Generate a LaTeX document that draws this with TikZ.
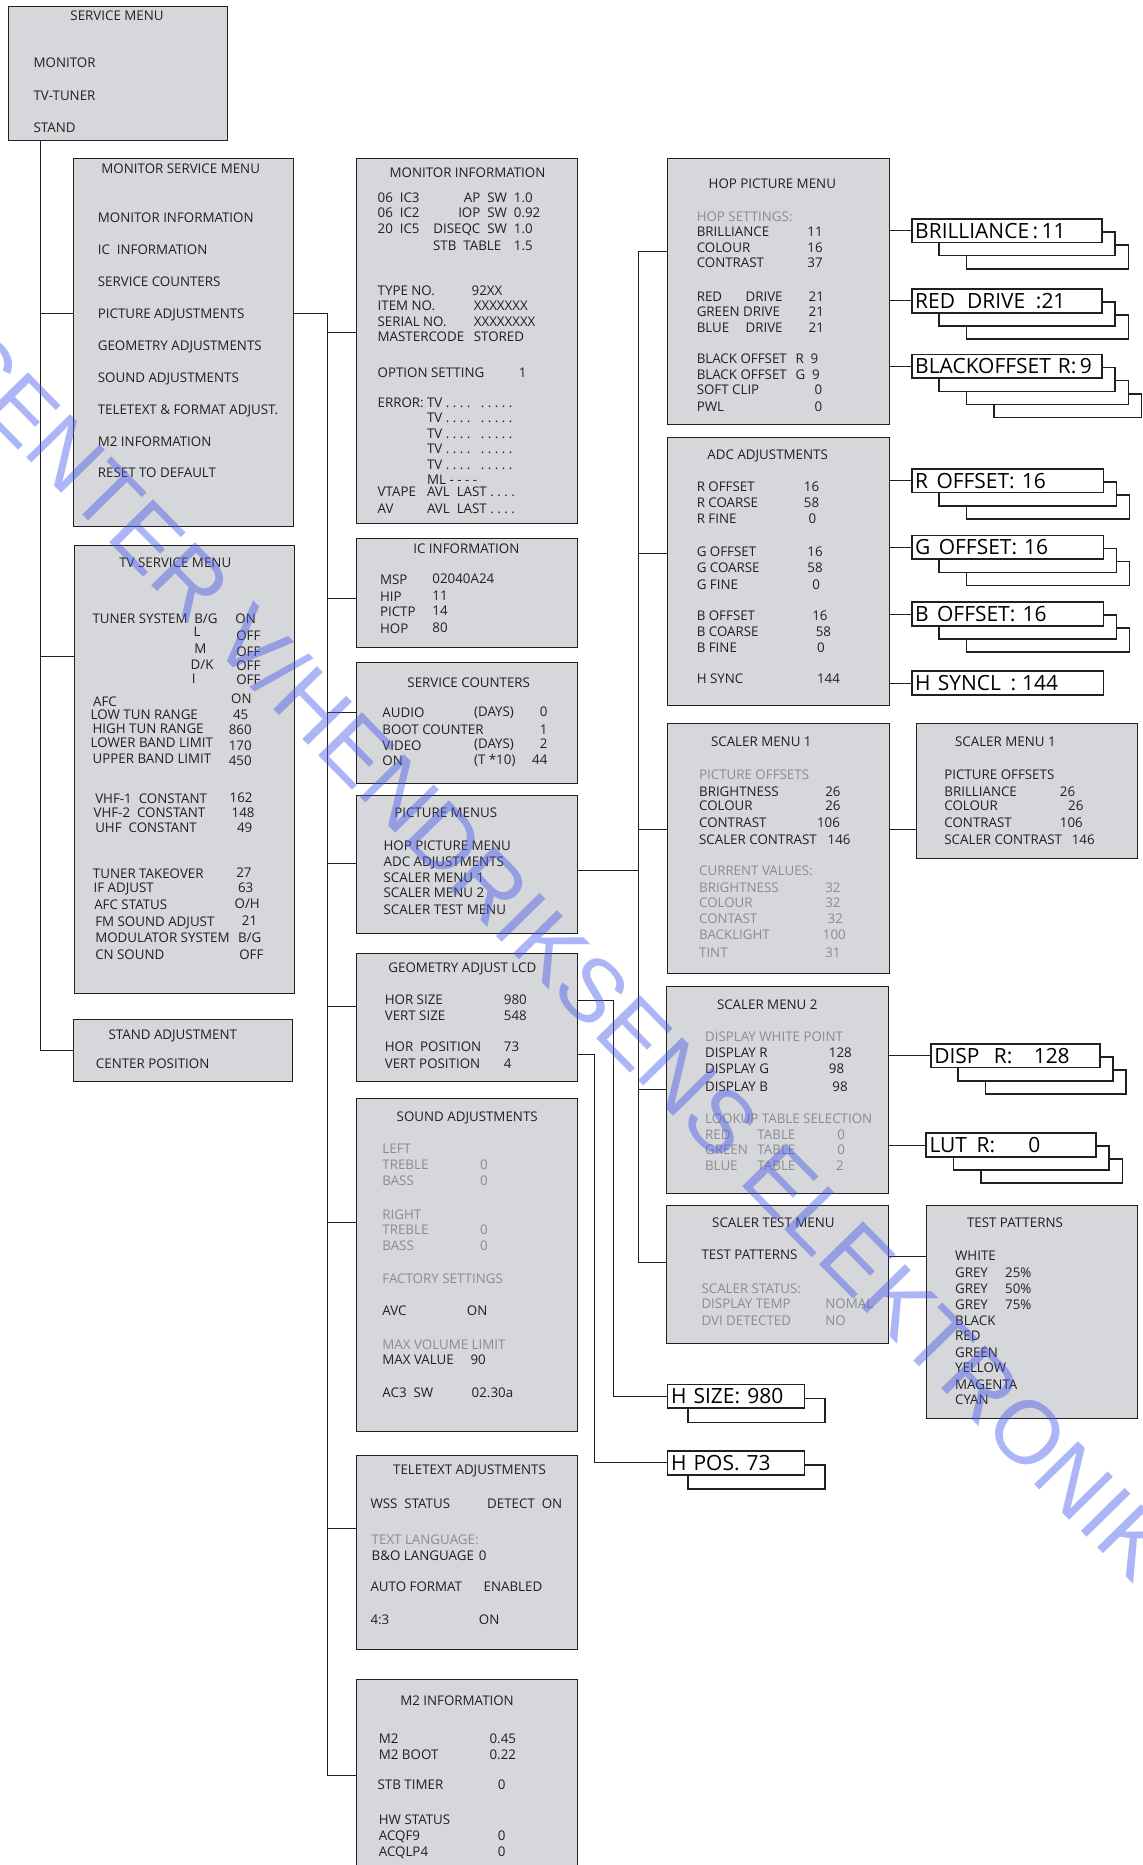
\documentclass[tikz,border=0pt]{standalone}
\usepackage{fontspec}
\setmainfont{Open Sans}
\newfontfamily\markfamily{Liberation Sans}
\usetikzlibrary{positioning}

\definecolor{boxgray}{RGB}{214,215,218}
\definecolor{ink}{RGB}{35,31,32}
\definecolor{dimtext}{RGB}{140,140,143}
\definecolor{markblue}{RGB}{70,90,235}

\newcommand{\menufont}{\fontsize{11.2pt}{13pt}\selectfont}
\newcommand{\valfont}{\fontsize{17.6pt}{20pt}\selectfont}

\tikzset{
    menubox/.style={
        rectangle, anchor=north west, inner sep=0pt,
        draw=ink, line width=0.8pt, fill=boxgray,
    },
    valbox/.style={
        rectangle, anchor=north west, inner xsep=3pt, inner ysep=0pt,
        minimum height=20pt, text height=12.6pt, text depth=0pt,
        draw=ink, line width=1.4pt, fill=white, font=\valfont, align=left,
    },
    txt/.style={
        anchor=west, inner sep=0pt,
        text height=8pt, text depth=0pt,
        font=\menufont, text=ink,
    },
    dim/.style={txt, text=dimtext},
    rtxt/.style={txt, anchor=east},
    wire/.style={draw=ink, line width=0.8pt},
}

\begin{document}
\begin{tikzpicture}[x=1pt, y=-1pt]
    \useasboundingbox (0,0) rectangle (960,1566.4);
    \clip (0,0) rectangle (960,1566.4);

    % menu boxes
    \node (smenu) at(7,5) [menubox, minimum width=184pt, minimum height=113pt] {};
    \node (msm) at(61,133) [menubox, minimum width=185pt, minimum height=309pt] {};
    \node (tvm) at(62,458) [menubox, minimum width=185pt, minimum height=376pt] {};
    \node (stand) at(61,856) [menubox, minimum width=184pt, minimum height=52pt] {};
    \node (minfo) at(299,133) [menubox, minimum width=186pt, minimum height=306pt] {};
    \node (icinfo) at(299,452) [menubox, minimum width=186pt, minimum height=91pt] {};
    \node (counters) at(299,556) [menubox, minimum width=186pt, minimum height=102pt] {};
    \node (picmenus) at(299,668) [menubox, minimum width=186pt, minimum height=116pt] {};
    \node (geom) at(299,800) [menubox, minimum width=186pt, minimum height=108pt] {};
    \node (sound) at(299,922) [menubox, minimum width=186pt, minimum height=280pt] {};
    \node (ttx) at(299,1222) [menubox, minimum width=186pt, minimum height=163pt] {};
    \node (mtwo) at(299,1410) [menubox, minimum width=186pt, minimum height=175pt] {};
    \node (hop) at(560,133) [menubox, minimum width=187pt, minimum height=223pt] {};
    \node (adc) at(560,367) [menubox, minimum width=187pt, minimum height=225pt] {};
    \node (sclone) at(560,607) [menubox, minimum width=187pt, minimum height=210pt] {};
    \node (sclonex) at(769,607) [menubox, minimum width=186pt, minimum height=114pt] {};
    \node (scltwo) at(559,828) [menubox, minimum width=187pt, minimum height=174pt] {};
    \node (scltest) at(559,1012) [menubox, minimum width=187pt, minimum height=116pt] {};
    \node (patterns) at(778,1012) [menubox, minimum width=177pt, minimum height=179pt] {};

    % service menu
    \node (sm-t) at(59,13) [txt] {SERVICE MENU};
    \node (sm-1) at(28,53) [txt] {MONITOR};
    \node (sm-2) at(28,80) [txt] {TV-TUNER};
    \node (sm-3) at(28,107) [txt] {STAND};

    % monitor service menu
    \node (ms-t) at(85,142) [txt] {MONITOR SERVICE MENU};
    \node (ms-1) at(82,182.6) [txt] {MONITOR INFORMATION};
    \node (ms-2) at(82,209.5) [txt] {IC\ \ INFORMATION};
    \node (ms-3) at(82,236.4) [txt] {SERVICE COUNTERS};
    \node (ms-4) at(82,263.3) [txt] {PICTURE ADJUSTMENTS};
    \node (ms-5) at(82,290.2) [txt] {GEOMETRY ADJUSTMENTS};
    \node (ms-6) at(82,317.2) [txt] {SOUND ADJUSTMENTS};
    \node (ms-7) at(82,344) [txt] {TELETEXT \& FORMAT ADJUST.};
    \node (ms-8) at(82,371) [txt] {M2 INFORMATION};
    \node (ms-9) at(82,397) [txt] {RESET TO DEFAULT};

    % tv service menu
    \node (tv-t) at(100,473) [txt] {TV SERVICE MENU};
    \node (tv-1) at(77.5,520) [txt] {TUNER SYSTEM};
    \node (tv-1a) at(163,520) [txt] {B/G};
    \node (tv-1b) at(197.5,520) [txt] {ON};
    \node (tv-2a) at(162.5,531) [txt] {L};
    \node (tv-2b) at(198.3,534) [txt] {OFF};
    \node (tv-3a) at(163,545) [txt] {M};
    \node (tv-3b) at(198.3,547) [txt] {OFF};
    \node (tv-4a) at(160,558) [txt] {D/K};
    \node (tv-4b) at(198.3,559) [txt] {OFF};
    \node (tv-5a) at(161,570) [txt] {I};
    \node (tv-5b) at(198.3,571) [txt] {OFF};
    \node (tv-6) at(78,589) [txt] {AFC};
    \node (tv-6v) at(194,587) [txt] {ON};
    \node (tv-7) at(76,600) [txt] {LOW TUN RANGE};
    \node (tv-7v) at(195.5,600) [txt] {45};
    \node (tv-8) at(77.6,612) [txt] {HIGH TUN RANGE};
    \node (tv-8v) at(192,613) [txt] {860};
    \node (tv-9) at(76,624) [txt] {LOWER BAND LIMIT};
    \node (tv-9v) at(192,626) [txt] {170};
    \node (tv-10) at(77.6,637) [txt] {UPPER BAND LIMIT};
    \node (tv-10v) at(192,639) [txt] {450};
    \node (tv-11) at(79.8,671) [txt] {VHF-1\ \ CONSTANT};
    \node (tv-11v) at(192.7,670) [txt] {162};
    \node (tv-12) at(78.4,683) [txt] {VHF-2\ \ CONSTANT};
    \node (tv-12v) at(194.4,683) [txt] {148};
    \node (tv-13) at(79.8,695) [txt] {UHF\ \ CONSTANT};
    \node (tv-13v) at(198.9,695) [txt] {49};
    \node (tv-14) at(77.9,734) [txt] {TUNER TAKEOVER};
    \node (tv-14v) at(198.3,733) [txt] {27};
    \node (tv-15) at(78.4,746) [txt] {IF ADJUST};
    \node (tv-15v) at(199.7,746) [txt] {63};
    \node (tv-16) at(79,760) [txt] {AFC STATUS};
    \node (tv-16v) at(196.9,759) [txt] {O/H};
    \node (tv-17) at(79.8,774) [txt] {FM SOUND ADJUST};
    \node (tv-17v) at(203,773) [txt] {21};
    \node (tv-18) at(79.8,788) [txt] {MODULATOR SYSTEM};
    \node (tv-18v) at(199.7,788) [txt] {B/G};
    \node (tv-19) at(79.8,802) [txt] {CN SOUND};
    \node (tv-19v) at(200.8,802) [txt] {OFF};

    % stand adjustment
    \node (st-t) at(91,869.4) [txt] {STAND ADJUSTMENT};
    \node (st-1) at(80.4,893) [txt] {CENTER POSITION};

    % monitor information
    \node (mi-t) at(327,145) [txt] {MONITOR INFORMATION};
    \node (mi-1) at(317,166) [txt] {06\ \ IC3};
    \node (mi-1a) at(426,166) [rtxt] {AP\ \ SW};
    \node (mi-1b) at(431.4,166) [txt] {1.0};
    \node (mi-2) at(317,179) [txt] {06\ \ IC2};
    \node (mi-2a) at(426,179) [rtxt] {IOP\ \ SW};
    \node (mi-2b) at(431.4,179) [txt] {0.92};
    \node (mi-3) at(317,192) [txt] {20\ \ IC5};
    \node (mi-3a) at(426,192) [rtxt] {DISEQC\ \ SW};
    \node (mi-3b) at(431.4,192) [txt] {1.0};
    \node (mi-4a) at(363.6,206) [txt] {STB\ \ TABLE};
    \node (mi-4b) at(431.4,206) [txt] {1.5};
    \node (mi-5) at(317,244) [txt] {TYPE NO.};
    \node (mi-5v) at(396,244) [txt] {92XX};
    \node (mi-6) at(317,257) [txt] {ITEM NO.};
    \node (mi-6v) at(397.8,257) [txt] {XXXXXXX};
    \node (mi-7) at(317,270) [txt] {SERIAL NO.};
    \node (mi-7v) at(397.8,270) [txt] {XXXXXXXX};
    \node (mi-8) at(317,283) [txt] {MASTERCODE};
    \node (mi-8v) at(397.8,283) [txt] {STORED};
    \node (mi-9) at(317,313) [txt] {OPTION SETTING};
    \node (mi-9v) at(435.6,313) [txt] {1};
    \node (mi-10) at(317,338) [txt] {ERROR:};
    \node (mi-10v) at(358.5,338) [txt] {TV\ .\ .\ .\ .\ \ \ .\ .\ .\ .\ .};
    \node (mi-11v) at(358.5,351) [txt] {TV\ .\ .\ .\ .\ \ \ .\ .\ .\ .\ .};
    \node (mi-12v) at(358.5,364) [txt] {TV\ .\ .\ .\ .\ \ \ .\ .\ .\ .\ .};
    \node (mi-13v) at(358.5,377) [txt] {TV\ .\ .\ .\ .\ \ \ .\ .\ .\ .\ .};
    \node (mi-14v) at(358.5,390) [txt] {TV\ .\ .\ .\ .\ \ \ .\ .\ .\ .\ .};
    \node (mi-15v) at(358.5,403) [txt] {ML\ -\ -\ -\ -};
    \node (mi-16) at(317,413) [txt] {VTAPE};
    \node (mi-16v) at(358.5,413) [txt] {AVL\ \ LAST\ .\ .\ .\ .};
    \node (mi-17) at(317,427) [txt] {AV};
    \node (mi-17v) at(358.5,427) [txt] {AVL\ \ LAST\ .\ .\ .\ .};

    % ic information
    \node (ic-t) at(347,461) [txt] {IC INFORMATION};
    \node (ic-1) at(319,487) [txt] {MSP};
    \node (ic-1v) at(363,486) [txt] {02040A24};
    \node (ic-2) at(319,501) [txt] {HIP};
    \node (ic-2v) at(363,500) [txt] {11};
    \node (ic-3) at(319,514) [txt] {PICTP};
    \node (ic-3v) at(363,513) [txt] {14};
    \node (ic-4) at(319,528) [txt] {HOP};
    \node (ic-4v) at(363,527) [txt] {80};

    % service counters
    \node (sc-t) at(342,573) [txt] {SERVICE COUNTERS};
    \node (sc-1) at(321,599) [txt] {AUDIO};
    \node (sc-1a) at(398,598) [txt] {(DAYS)};
    \node (sc-1v) at(460,598) [rtxt] {0};
    \node (sc-2) at(321,613) [txt] {BOOT COUNTER};
    \node (sc-2v) at(460,613) [rtxt] {1};
    \node (sc-3) at(321,626) [txt] {VIDEO};
    \node (sc-3a) at(398,625) [txt] {(DAYS)};
    \node (sc-3v) at(460,625) [rtxt] {2};
    \node (sc-4) at(321,639) [txt] {ON};
    \node (sc-4a) at(398,638) [txt] {(T *10)};
    \node (sc-4v) at(460,638) [rtxt] {44};

    % picture menus
    \node (pm-t) at(331,683) [txt] {PICTURE MENUS};
    \node (pm-1) at(322,710) [txt] {HOP PICTURE MENU};
    \node (pm-2) at(322,723.5) [txt] {ADC ADJUSTMENTS};
    \node (pm-3) at(322,737) [txt] {SCALER MENU 1};
    \node (pm-4) at(322,750) [txt] {SCALER MENU 2};
    \node (pm-5) at(322,764) [txt] {SCALER TEST MENU};

    % geometry
    \node (ge-t) at(326,813) [txt] {GEOMETRY ADJUST LCD};
    \node (ge-1) at(323,840) [txt] {HOR SIZE};
    \node (ge-1v) at(423,840) [txt] {980};
    \node (ge-2) at(323,853) [txt] {VERT SIZE};
    \node (ge-2v) at(423,853) [txt] {548};
    \node (ge-3) at(323,879) [txt] {HOR\ \ POSITION};
    \node (ge-3v) at(423,879) [txt] {73};
    \node (ge-4) at(323,893) [txt] {VERT POSITION};
    \node (ge-4v) at(423,893) [txt] {4};

    % sound
    \node (so-t) at(333,938) [txt] {SOUND ADJUSTMENTS};
    \node (so-1) at(321,965) [dim] {LEFT};
    \node (so-2) at(321,978) [dim] {TREBLE};
    \node (so-2v) at(403,978) [dim] {0};
    \node (so-3) at(321,992) [dim] {BASS};
    \node (so-3v) at(403,992) [dim] {0};
    \node (so-4) at(321,1020) [dim] {RIGHT};
    \node (so-5) at(321,1033) [dim] {TREBLE};
    \node (so-5v) at(403,1033) [dim] {0};
    \node (so-6) at(321,1046) [dim] {BASS};
    \node (so-6v) at(403,1046) [dim] {0};
    \node (so-7) at(321,1074) [dim] {FACTORY SETTINGS};
    \node (so-8) at(321,1101) [txt] {AVC};
    \node (so-8v) at(392,1101) [txt] {ON};
    \node (so-9) at(321,1129) [dim] {MAX VOLUME LIMIT};
    \node (so-10) at(321,1142) [txt] {MAX VALUE};
    \node (so-10v) at(395,1142) [txt] {90};
    \node (so-11) at(321,1170) [txt] {AC3\ \ SW};
    \node (so-11v) at(396,1170) [txt] {02.30a};

    % teletext
    \node (tt-t) at(330,1234) [txt] {TELETEXT ADJUSTMENTS};
    \node (tt-1) at(311,1263) [txt] {WSS\ \ STATUS};
    \node (tt-1v) at(409,1263) [txt] {DETECT\ \ ON};
    \node (tt-2) at(312,1293) [dim] {TEXT LANGUAGE:};
    \node (tt-3) at(312,1307) [txt] {B\&O LANGUAGE};
    \node (tt-3v) at(402,1307) [txt] {0};
    \node (tt-4) at(311,1333) [txt] {AUTO FORMAT};
    \node (tt-4v) at(406,1333) [txt] {ENABLED};
    \node (tt-5) at(311,1360) [txt] {4:3};
    \node (tt-5v) at(402,1360) [txt] {ON};

    % m2 information
    \node (m2-t) at(336,1428) [txt] {M2 INFORMATION};
    \node (m2-1) at(318,1460) [txt] {M2};
    \node (m2-1v) at(411,1460) [txt] {0.45};
    \node (m2-2) at(318,1474) [txt] {M2 BOOT};
    \node (m2-2v) at(411,1474) [txt] {0.22};
    \node (m2-3) at(317,1499) [txt] {STB TIMER};
    \node (m2-3v) at(418,1499) [txt] {0};
    \node (m2-4) at(318,1528) [txt] {HW STATUS};
    \node (m2-5) at(318,1542) [txt] {ACQF9};
    \node (m2-5v) at(418,1542) [txt] {0};
    \node (m2-6) at(318,1555) [txt] {ACQLP4};
    \node (m2-6v) at(418,1555) [txt] {0};

    % hop picture menu
    \node (hp-t) at(595,154) [txt] {HOP PICTURE MENU};
    \node (hp-1) at(585,182) [dim] {HOP SETTINGS:};
    \node (hp-2) at(585,195) [txt] {BRILLIANCE};
    \node (hp-2v) at(678,195) [txt] {11};
    \node (hp-3) at(585,208) [txt] {COLOUR};
    \node (hp-3v) at(678,208) [txt] {16};
    \node (hp-4) at(585,221) [txt] {CONTRAST};
    \node (hp-4v) at(678,221) [txt] {37};
    \node (hp-5) at(585,249) [txt] {RED};
    \node (hp-5a) at(626,249) [txt] {DRIVE};
    \node (hp-5v) at(679,249) [txt] {21};
    \node (hp-6) at(585,262) [txt] {GREEN DRIVE};
    \node (hp-6v) at(679,262) [txt] {21};
    \node (hp-7) at(585,275) [txt] {BLUE};
    \node (hp-7a) at(626,275) [txt] {DRIVE};
    \node (hp-7v) at(679,275) [txt] {21};
    \node (hp-8) at(585,301.5) [txt] {BLACK OFFSET};
    \node (hp-8v) at(668,301.5) [txt] {R\ \ 9};
    \node (hp-9) at(585,315) [txt] {BLACK OFFSET};
    \node (hp-9v) at(668,315) [txt] {G\ \ 9};
    \node (hp-10) at(585,327.5) [txt] {SOFT CLIP};
    \node (hp-10v) at(684,327.5) [txt] {0};
    \node (hp-11) at(585,341.5) [txt] {PWL};
    \node (hp-11v) at(684,341.5) [txt] {0};

    % adc adjustments
    \node (ad-t) at(594,382) [txt] {ADC ADJUSTMENTS};
    \node (ad-1) at(585,409) [txt] {R OFFSET};
    \node (ad-1v) at(675,409) [txt] {16};
    \node (ad-2) at(585,422) [txt] {R COARSE};
    \node (ad-2v) at(675,422) [txt] {58};
    \node (ad-3) at(585,436) [txt] {R FINE};
    \node (ad-3v) at(679,436) [txt] {0};
    \node (ad-4) at(585,463) [txt] {G OFFSET};
    \node (ad-4v) at(678,463) [txt] {16};
    \node (ad-5) at(585,477) [txt] {G COARSE};
    \node (ad-5v) at(678,477) [txt] {58};
    \node (ad-6) at(585,491) [txt] {G FINE};
    \node (ad-6v) at(682,491) [txt] {0};
    \node (ad-7) at(585,517) [txt] {B OFFSET};
    \node (ad-7v) at(682,517) [txt] {16};
    \node (ad-8) at(585,531) [txt] {B COARSE};
    \node (ad-8v) at(685,531) [txt] {58};
    \node (ad-9) at(585,544) [txt] {B FINE};
    \node (ad-9v) at(686,544) [txt] {0};
    \node (ad-10) at(585,570) [txt] {H SYNC};
    \node (ad-10v) at(686,570) [txt] {144};

    % scaler menu 1
    \node (s1-t) at(597,623) [txt] {SCALER MENU 1};
    \node (s1-1) at(587,651) [dim] {PICTURE OFFSETS};
    \node (s1-2) at(587,665) [txt] {BRIGHTNESS};
    \node (s1-2v) at(693,665) [txt] {26};
    \node (s1-3) at(587,677) [txt] {COLOUR};
    \node (s1-3v) at(693,677) [txt] {26};
    \node (s1-4) at(587,691) [txt] {CONTRAST};
    \node (s1-4v) at(686,691) [txt] {106};
    \node (s1-5) at(587,705) [txt] {SCALER CONTRAST};
    \node (s1-5v) at(695,705) [txt] {146};
    \node (s1-6) at(587,731) [dim] {CURRENT VALUES:};
    \node (s1-7) at(587,746) [dim] {BRIGHTNESS};
    \node (s1-7v) at(693,746) [dim] {32};
    \node (s1-8) at(587,758) [dim] {COLOUR};
    \node (s1-8v) at(693,758) [dim] {32};
    \node (s1-9) at(587,772) [dim] {CONTAST};
    \node (s1-9v) at(695,772) [dim] {32};
    \node (s1-10) at(587,785) [dim] {BACKLIGHT};
    \node (s1-10v) at(691,785) [dim] {100};
    \node (s1-11) at(587,800) [dim] {TINT};
    \node (s1-11v) at(693,800) [dim] {31};

    % scaler menu 1, offsets
    \node (s1x-t) at(802,623) [txt] {SCALER MENU 1};
    \node (s1x-1) at(793,651) [txt] {PICTURE OFFSETS};
    \node (s1x-2) at(793,665) [txt] {BRILLIANCE};
    \node (s1x-2v) at(890,665) [txt] {26};
    \node (s1x-3) at(793,677) [txt] {COLOUR};
    \node (s1x-3v) at(897,677) [txt] {26};
    \node (s1x-4) at(793,691) [txt] {CONTRAST};
    \node (s1x-4v) at(890,691) [txt] {106};
    \node (s1x-5) at(793,705) [txt] {SCALER CONTRAST};
    \node (s1x-5v) at(900,705) [txt] {146};

    % scaler menu 2
    \node (s2-t) at(602,844) [txt] {SCALER MENU 2};
    \node (s2-1) at(592,871) [dim] {DISPLAY WHITE POINT};
    \node (s2-2) at(592,884) [txt] {DISPLAY R};
    \node (s2-2v) at(696,884) [txt] {128};
    \node (s2-3) at(592,898) [txt] {DISPLAY G};
    \node (s2-3v) at(696,898) [txt] {98};
    \node (s2-4) at(592,913) [txt] {DISPLAY B};
    \node (s2-4v) at(699,913) [txt] {98};
    \node (s2-5) at(592,940) [dim] {LOOKUP TABLE SELECTION};
    \node (s2-6) at(592,953) [dim] {RED};
    \node (s2-6a) at(636,953) [dim] {TABLE};
    \node (s2-6v) at(703,953) [dim] {0};
    \node (s2-7) at(592,966) [dim] {GREEN};
    \node (s2-7a) at(636,966) [dim] {TABLE};
    \node (s2-7v) at(703,966) [dim] {0};
    \node (s2-8) at(592,979) [dim] {BLUE};
    \node (s2-8a) at(636,979) [dim] {TABLE};
    \node (s2-8v) at(702,979) [dim] {2};

    % scaler test menu
    \node (stm-t) at(598,1027) [txt] {SCALER TEST MENU};
    \node (stm-1) at(589,1054) [txt] {TEST PATTERNS};
    \node (stm-2) at(589,1082) [dim] {SCALER STATUS:};
    \node (stm-3) at(589,1095) [dim] {DISPLAY TEMP};
    \node (stm-3v) at(693,1095) [dim] {NOMAL};
    \node (stm-4) at(589,1109) [dim] {DVI DETECTED};
    \node (stm-4v) at(693,1109) [dim] {NO};

    % test patterns
    \node (tp-t) at(812,1027) [txt] {TEST PATTERNS};
    \node (tp-1) at(802,1055) [txt] {WHITE};
    \node (tp-2) at(802,1069) [txt] {GREY};
    \node (tp-2v) at(844,1069) [txt] {25\%};
    \node (tp-3) at(802,1082) [txt] {GREY};
    \node (tp-3v) at(844,1082) [txt] {50\%};
    \node (tp-4) at(802,1096) [txt] {GREY};
    \node (tp-4v) at(844,1096) [txt] {75\%};
    \node (tp-5) at(802,1109) [txt] {BLACK};
    \node (tp-6) at(802,1122) [txt] {RED};
    \node (tp-7) at(802,1136) [txt] {GREEN};
    \node (tp-8) at(802,1149) [txt] {YELLOW};
    \node (tp-9) at(802,1163) [txt] {MAGENTA};
    \node (tp-10) at(802,1176) [txt] {CYAN};

    % value boxes, back ones first
    \node (bri-3) at(811,205) [valbox, minimum width=136pt] {};
    \node (bri-2) at(788,194) [valbox, minimum width=148pt] {};
    \node (bri) at(765,183) [valbox, text width=154pt] {BRILLIANCE\,:\,11};
    \node (red-3) at(811,264) [valbox, minimum width=136pt] {};
    \node (red-2) at(788,253) [valbox, minimum width=148pt] {};
    \node (red) at(765,242) [valbox, text width=154pt] {RED\hspace{10pt}DRIVE\hspace{9pt}:21};
    \node (blk-4) at(834,330) [valbox, minimum width=124pt] {};
    \node (blk-3) at(811,319) [valbox, minimum width=136pt] {};
    \node (blk-2) at(788,308) [valbox, minimum width=148pt] {};
    \node (blk) at(765,297) [valbox, text width=154pt] {BLACKOFFSET R:\,9};
    \node (roff-3) at(811,415) [valbox, minimum width=137pt] {};
    \node (roff-2) at(788,404) [valbox, minimum width=149pt] {};
    \node (roff) at(765,393) [valbox, text width=155pt] {R\hspace{7pt}OFFSET:\hspace{6pt}16};
    \node (goff-3) at(811,471) [valbox, minimum width=137pt] {};
    \node (goff-2) at(788,460) [valbox, minimum width=149pt] {};
    \node (goff) at(765,449) [valbox, text width=155pt] {G\hspace{7pt}OFFSET:\hspace{6pt}16};
    \node (boff-3) at(811,527) [valbox, minimum width=137pt] {};
    \node (boff-2) at(788,516) [valbox, minimum width=149pt] {};
    \node (boff) at(765,505) [valbox, text width=155pt] {B\hspace{7pt}OFFSET:\hspace{6pt}16};
    \node (hsync) at(765,563) [valbox, text width=155pt] {H\hspace{6pt}SYNCL\hspace{8pt}:\hspace{5pt}144};
    \node (disp-3) at(827,898) [valbox, minimum width=118pt] {};
    \node (disp-2) at(804,887) [valbox, minimum width=130pt] {};
    \node (disp) at(781,876) [valbox, text width=136pt] {DISP\hspace{12pt}R:\hspace{18pt}128};
    \node (lut-3) at(823,973) [valbox, minimum width=119pt] {};
    \node (lut-2) at(800,962) [valbox, minimum width=131pt] {};
    \node (lut) at(777,951) [valbox, text width=137pt] {LUT\hspace{8pt}R:\hspace{28pt}0};
    \node (hsize-2) at(577,1174) [valbox, minimum width=115pt] {};
    \node (hsize) at(560,1162) [valbox, text width=109pt] {H SIZE:\hspace{6pt}980};
    \node (hpos-2) at(577,1230) [valbox, minimum width=115pt] {};
    \node (hpos) at(560,1218) [valbox, text width=109pt] {H POS.\ 73};

    % junctions
    \coordinate (t0) at(34,118);
    \coordinate (t1) at(34,263);
    \coordinate (t2) at(34,551);
    \coordinate (t3) at(34,882);
    \coordinate (b0) at(275,263);
    \coordinate (b1) at(275,279);
    \coordinate (b2) at(275,503);
    \coordinate (b3) at(275,598);
    \coordinate (b4) at(275,725);
    \coordinate (b5) at(275,845);
    \coordinate (b6) at(275,1027);
    \coordinate (b7) at(275,1284);
    \coordinate (b8) at(275,1491);
    \coordinate (c0) at(536,211);
    \coordinate (c1) at(536,465);
    \coordinate (c2) at(536,697);
    \coordinate (c3) at(536,915);
    \coordinate (c4) at(536,1060);
    \coordinate (cp) at(536,731);
    \coordinate (g1) at(515,840);
    \coordinate (g2) at(499,886);

    % connectors
    \draw[wire] (t0) -- (t3) -- (stand.west |- t3);
    \draw[wire] (t1) -- (msm.west |- t1);
    \draw[wire] (t2) -- (tvm.west |- t2);
    \draw[wire] (msm.east |- b0) -- (b0) -- (b8) -- (mtwo.west |- b8);
    \draw[wire] (b1) -- (minfo.west |- b1);
    \draw[wire] (b2) -- (icinfo.west |- b2);
    \draw[wire] (b3) -- (counters.west |- b3);
    \draw[wire] (b4) -- (picmenus.west |- b4);
    \draw[wire] (b5) -- (geom.west |- b5);
    \draw[wire] (b6) -- (sound.west |- b6);
    \draw[wire] (b7) -- (ttx.west |- b7);
    \draw[wire] (picmenus.east |- cp) -- (cp);
    \draw[wire] (c0) -- (c4);
    \draw[wire] (c0) -- (hop.west |- c0);
    \draw[wire] (c1) -- (adc.west |- c1);
    \draw[wire] (c2) -- (sclone.west |- c2);
    \draw[wire] (c3) -- (scltwo.west |- c3);
    \draw[wire] (c4) -- (scltest.west |- c4);
    \draw[wire] (sclone.east |- c2) -- (sclonex.west |- c2);
    \draw[wire] (scltest.east |- tp-1) -- (patterns.west |- tp-1);
    \draw[wire] (hop.east |- bri.west) -- (bri.west);
    \draw[wire] (hop.east |- red.west) -- (red.west);
    \draw[wire] (hop.east |- blk.west) -- (blk.west);
    \draw[wire] (adc.east |- roff.west) -- (roff.west);
    \draw[wire] (adc.east |- goff.west) -- (goff.west);
    \draw[wire] (adc.east |- boff.west) -- (boff.west);
    \draw[wire] (adc.east |- hsync.west) -- (hsync.west);
    \draw[wire] (scltwo.east |- disp.west) -- (disp.west);
    \draw[wire] (scltwo.east |- lut.west) -- (lut.west);
    \draw[wire] (geom.east |- g1) -- (g1) |- (hsize.west);
    \draw[wire] (geom.east |- g2) -- (g2) |- (hpos.west);

    % watermark
    \node (mark) at(468,800) [rotate=-45.5, text=markblue, text opacity=0.45,
        font=\markfamily\fontsize{75pt}{75pt}\selectfont] {CENTER V/HENDRIKSENS ELEKTRONIK};
\end{tikzpicture}
\end{document}
